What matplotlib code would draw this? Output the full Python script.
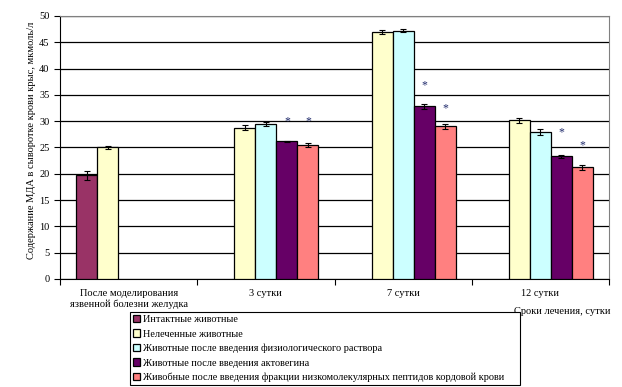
import numpy as np
import matplotlib
matplotlib.use("Agg")
import matplotlib.pyplot as plt

plt.rcParams['font.family'] = ['Liberation Serif', 'DejaVu Serif']

# data
categories = ["После моделирования\nязвенной болезни желудка", "3 сутки", "7 сутки", "12 сутки"]
series = ["Интактные животные",
          "Нелеченные животные",
          "Животные после введения физиологического раствора",
          "Животные после введения актовегина",
          "Живобные после введения фракции низкомолекулярных пептидов кордовой крови"]
colors = ["#993366", "#FFFFCC", "#CCFFFF", "#660066", "#FF8080"]

intact = [19.7, np.nan, np.nan, np.nan]
untreated = [25.0, 28.8, 47.0, 30.2]
saline = [np.nan, 29.4, 47.2, 27.9]
actovegin = [np.nan, 26.2, 32.8, 23.3]
peptides = [np.nan, 25.4, 29.0, 21.2]

intact_err = [0.8, 0, 0, 0]
untreated_err = [0.2, 0.4, 0.4, 0.5]
saline_err = [0, 0.4, 0.3, 0.6]
actovegin_err = [0, 0.1, 0.4, 0.3]
peptides_err = [0, 0.4, 0.4, 0.4]

# asterisk positions (value level) for actovegin / peptides
star_acto = [np.nan, 30.0, 36.9, 27.8]
star_pept = [np.nan, 30.0, 32.5, 25.5]

values = [intact, untreated, saline, actovegin, peptides]
errors = [intact_err, untreated_err, saline_err, actovegin_err, peptides_err]

fig = plt.figure(figsize=(6.22, 3.87), dpi=100)
ax = fig.add_axes([60/622, 1-279/387, 549/622, 263/387])

x = np.arange(len(categories))
w = 0.153
for i in range(5):
    pos = x + (i - 2) * w
    vals = np.array(values[i], dtype=float)
    ok = ~np.isnan(vals)
    ax.bar(pos[ok], vals[ok], w, color=colors[i], edgecolor='black', linewidth=0.9,
           label=series[i], zorder=3)
    ax.errorbar(pos[ok], vals[ok], yerr=np.array(errors[i])[ok], fmt='none',
                ecolor='black', elinewidth=0.8, capsize=2.5, capthick=0.8, zorder=4)

for j in range(len(categories)):
    if not np.isnan(star_acto[j]):
        ax.text(x[j] + 1 * w, star_acto[j], "*", ha='center', va='center',
                fontsize=8.5, color='#1F2A6B', zorder=5)
    if not np.isnan(star_pept[j]):
        ax.text(x[j] + 2 * w, star_pept[j], "*", ha='center', va='center',
                fontsize=8.5, color='#1F2A6B', zorder=5)

ax.set_xlim(-0.5, 3.5)
ax.set_ylim(0, 50)
ax.set_yticks(np.arange(0, 51, 5))
ax.tick_params(axis='y', labelsize=7.5, length=4, width=0.8, direction='out')
ax.set_xticks(np.arange(-0.5, 3.6, 1))
ax.set_xticklabels([])
ax.tick_params(axis='x', length=4, width=0.8, direction='out')
ax.yaxis.grid(True, color='black', linewidth=0.9, zorder=0)
ax.set_axisbelow(True)
for s in ['top', 'right']:
    ax.spines[s].set_color('#808080')
ax.spines['left'].set_linewidth(0.8)
ax.spines['bottom'].set_linewidth(0.8)

for j, c in enumerate(categories):
    ax.text(x[j], -0.038, c, ha='center', va='top', fontsize=7.5, linespacing=1.25,
            transform=ax.get_xaxis_transform())

fig.text(611/622, 1-311/387, "Сроки лечения, сутки", ha='right', va='center', fontsize=7.5)
fig.text(32/622, 1-140/387, "Содержание МДА в сыворотке крови крыс, мкмоль/л",
         rotation=90, ha='center', va='center', fontsize=7.5)

leg = fig.legend(loc='upper left', bbox_to_anchor=(130/622, 0, 390/622, 1-312/387),
                 mode='expand', fontsize=7.4,
                 frameon=True, fancybox=False, edgecolor='black', framealpha=1,
                 handlelength=0.7, handleheight=0.7, handletextpad=0.3,
                 labelspacing=0.5, borderpad=0.3, borderaxespad=0)
leg.get_frame().set_linewidth(0.8)

fig.savefig("out.png", dpi=100)
